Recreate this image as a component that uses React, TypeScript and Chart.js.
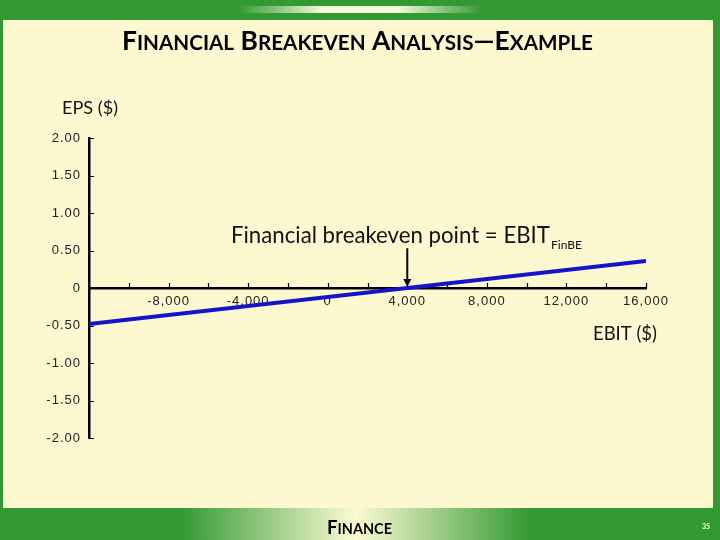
import React, { useEffect, useRef } from "react";
import { Chart, registerables } from "chart.js";

Chart.register(...registerables);

// ---- data ----
const ebitValues = [-12000, 16000];
const epsValues = [-0.48, 0.36];
const breakevenEbit = 4000;
const breakevenEps = 0;
const arrowTopEps = 0.53;
const xMin = -12000;
const xMax = 16000;
const xStep = 4000;
const xMinorStep = 2000;
const yMin = -2;
const yMax = 2;
const yStep = 0.5;

const titleText = "Financial Breakeven Analysis\u2014Example";
const annotationText = "Financial breakeven point = EBIT";
const annotationSub = "FinBE";
const yAxisTitle = "EPS ($)";
const xAxisTitle = "EBIT ($)";
const footerText = "Finance";
const pageNumber = "35";

const GREEN = "#339933";
const YELLOW = "#FEF8D0";
const BLUE = "#1414C8";

function smallCapsParts(text: string) {
  const parts: { ch: string; big: boolean }[] = [];
  for (const ch of text) {
    const isLower = ch !== ch.toUpperCase();
    parts.push({ ch: ch.toUpperCase(), big: !isLower });
  }
  return parts;
}

function drawSmallCaps(
  ctx: CanvasRenderingContext2D,
  text: string,
  left: number,
  baseline: number,
  targetWidth: number,
  ratio: number,
  family: string,
  weight: string
) {
  const parts = smallCapsParts(text);
  const measure = (size: number) => {
    let w = 0;
    for (const p of parts) {
      ctx.font = `${weight} ${p.big ? size : size * ratio}px ${family}`;
      w += ctx.measureText(p.ch).width;
    }
    return w;
  };
  const base = 20;
  const size = (base * targetWidth) / measure(base);
  let x = left;
  ctx.textAlign = "left";
  ctx.textBaseline = "alphabetic";
  for (const p of parts) {
    ctx.font = `${weight} ${p.big ? size : size * ratio}px ${family}`;
    ctx.fillText(p.ch, x, baseline);
    x += ctx.measureText(p.ch).width;
  }
}

function fitText(
  ctx: CanvasRenderingContext2D,
  text: string,
  left: number,
  baseline: number,
  targetWidth: number,
  family: string,
  weight = "normal"
) {
  ctx.font = `${weight} 20px ${family}`;
  const size = (20 * targetWidth) / ctx.measureText(text).width;
  ctx.font = `${weight} ${size}px ${family}`;
  ctx.textAlign = "left";
  ctx.textBaseline = "alphabetic";
  ctx.fillText(text, left, baseline);
}

const framePlugin = {
  id: "frame",
  beforeDraw(chart: any) {
    const ctx: CanvasRenderingContext2D = chart.ctx;
    const W = chart.width;
    const H = chart.height;
    ctx.save();
    ctx.fillStyle = GREEN;
    ctx.fillRect(0, 0, W, H);
    // top highlight
    const g1 = ctx.createLinearGradient(238, 0, 482, 0);
    g1.addColorStop(0, "rgba(255,255,230,0)");
    g1.addColorStop(0.35, "rgba(255,255,230,0.95)");
    g1.addColorStop(0.65, "rgba(255,255,230,0.95)");
    g1.addColorStop(1, "rgba(255,255,230,0)");
    ctx.fillStyle = g1;
    ctx.fillRect(238, 6, 244, 7);
    // bottom band gradient
    const g2 = ctx.createLinearGradient(180, 0, 530, 0);
    g2.addColorStop(0, "rgba(250,250,210,0)");
    g2.addColorStop(0.5, "rgba(252,250,210,1)");
    g2.addColorStop(1, "rgba(250,250,210,0)");
    ctx.fillStyle = g2;
    ctx.fillRect(180, 508, 350, 32);
    // yellow panel
    ctx.fillStyle = YELLOW;
    ctx.fillRect(3, 20, 710, 488);
    ctx.restore();
    (ctx as any).letterSpacing = "1px";
  },
  beforeDatasetsDraw(chart: any) {
    const ctx: CanvasRenderingContext2D = chart.ctx;
    (ctx as any).letterSpacing = "0px";
    const xs = chart.scales.x;
    const ys = chart.scales.y;
    const y0 = ys.getPixelForValue(0);
    const left = chart.chartArea.left;
    ctx.save();
    ctx.strokeStyle = "#000";
    ctx.lineWidth = 1.2;
    ctx.beginPath();
    for (let v = xMin + xMinorStep; v <= xMax; v += xMinorStep) {
      const px = Math.round(xs.getPixelForValue(v)) + 0.5;
      ctx.moveTo(px, y0);
      ctx.lineTo(px, y0 - 5);
    }
    for (let v = yMin; v <= yMax + 1e-9; v += yStep) {
      const py = Math.round(ys.getPixelForValue(v)) + 0.5;
      ctx.moveTo(left, py);
      ctx.lineTo(left + 5, py);
    }
    ctx.stroke();
    ctx.restore();
  },
  afterDraw(chart: any) {
    const ctx: CanvasRenderingContext2D = chart.ctx;
    const xs = chart.scales.x;
    const ys = chart.scales.y;
    ctx.save();
    (ctx as any).letterSpacing = "0px";
    // arrow
    const ax = xs.getPixelForValue(breakevenEbit);
    const ayTop = ys.getPixelForValue(arrowTopEps);
    const ayBot = ys.getPixelForValue(breakevenEps);
    ctx.strokeStyle = "#000";
    ctx.fillStyle = "#000";
    ctx.lineWidth = 2;
    ctx.beginPath();
    ctx.moveTo(ax, ayTop);
    ctx.lineTo(ax, ayBot - 8);
    ctx.stroke();
    ctx.beginPath();
    ctx.moveTo(ax - 4, ayBot - 9);
    ctx.lineTo(ax + 4, ayBot - 9);
    ctx.lineTo(ax, ayBot - 1);
    ctx.closePath();
    ctx.fill();

    ctx.fillStyle = "#111";
    fitText(ctx, annotationText, 231, 243, 319, "Lato");
    fitText(ctx, annotationSub, 551, 249, 31, "Lato");
    fitText(ctx, yAxisTitle, 62, 114, 56, "Lato");
    fitText(ctx, xAxisTitle, 593, 340, 64, "Lato");

    ctx.fillStyle = "#000";
    drawSmallCaps(ctx, titleText, 122, 50, 471, 0.78, "Lato", "bold");
    drawSmallCaps(ctx, footerText, 327, 534, 65, 0.78, "Lato", "bold");

    ctx.fillStyle = "#FFFFCC";
    ctx.font = "bold 7px Lato";
    ctx.textAlign = "left";
    ctx.fillText(pageNumber, 702, 529);
    ctx.restore();
  },
};

export default function App() {
  const ref = useRef<HTMLCanvasElement>(null);
  useEffect(() => {
    document.body.style.margin = "0";
    const canvas = ref.current!;
    const chart = new Chart(canvas, {
      type: "line",
      data: {
        datasets: [
          {
            data: ebitValues.map((x, i) => ({ x, y: epsValues[i] })),
            borderColor: BLUE,
            borderWidth: 4,
            pointRadius: 0,
            fill: false,
            tension: 0,
          },
        ],
      },
      options: {
        responsive: false,
        animation: false,
        events: [],
        layout: { padding: { left: 0, top: 138, right: 74, bottom: 102 } },
        plugins: {
          legend: { display: false },
          title: { display: false },
          tooltip: { enabled: false },
        },
        scales: {
          x: {
            type: "linear",
            min: xMin,
            max: xMax,
            position: { y: 0 } as any,
            grid: { display: false, drawTicks: false },
            border: { display: true, color: "#000", width: 2.5 },
            ticks: {
              stepSize: xStep,
              autoSkip: false,
              maxRotation: 0,
              padding: 6,
              color: "#222",
              font: { family: "Liberation Sans", size: 13 },
              callback: (v: any) =>
                v === xMin ? "" : Number(v).toLocaleString("en-US"),
            },
          },
          y: {
            type: "linear",
            min: yMin,
            max: yMax,
            grid: { display: false, drawTicks: false },
            border: { display: true, color: "#000", width: 2.5 },
            afterFit: (scale: any) => {
              scale.width = 89;
            },
            ticks: {
              stepSize: yStep,
              padding: 8,
              color: "#222",
              font: { family: "Liberation Sans", size: 13 },
              callback: (v: any) => (v === 0 ? "0" : Number(v).toFixed(2)),
            },
          },
        },
      },
      plugins: [framePlugin],
    });
    return () => chart.destroy();
  }, []);
  return (
    <canvas
      ref={ref}
      width={720}
      height={540}
      style={{ display: "block", width: 720, height: 540 }}
    />
  );
}
